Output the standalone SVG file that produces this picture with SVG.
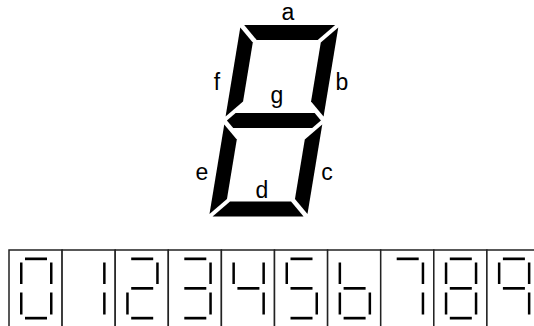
<svg xmlns="http://www.w3.org/2000/svg" width="534" height="326" viewBox="0 0 534 326">
<style>
.seg{fill:#000}
.lbl{font-family:"Liberation Sans",Arial,sans-serif;font-size:23px;fill:#000;text-anchor:middle}
.box{fill:#fff;stroke:#222;stroke-width:1.5}
.s{fill:#000}
</style>
<defs>
<rect id="sa" class="s" x="16" y="257.5" width="22" height="2.7"/>
<rect id="sb" class="s" x="41" y="262.5" width="2.5" height="21.5"/>
<rect id="sc" class="s" x="41" y="292.5" width="2.5" height="22"/>
<rect id="sd" class="s" x="16" y="316.8" width="22" height="2.7"/>
<rect id="se" class="s" x="11" y="292.5" width="2.5" height="22"/>
<rect id="sf" class="s" x="11" y="262.5" width="2.5" height="21.5"/>
<rect id="sg" class="s" x="16" y="287" width="22" height="2.7"/>
</defs>
<rect width="534" height="326" fill="#fff"/>
<g id="display" transform="matrix(1,0,-0.165,1,19.8,0)">
<polygon id="seg-a" class="seg" points="228.5,25 319.5,25 304.5,40 243.5,40"/>
<polygon id="seg-b" class="seg" points="323,27.5 323,116.5 308,101.5 308,42.5"/>
<polygon id="seg-c" class="seg" points="323,124.5 323,214 308,199 308,139.5"/>
<polygon id="seg-d" class="seg" points="228.5,216.5 243.5,201.5 304.5,201.5 319.5,216.5"/>
<polygon id="seg-e" class="seg" points="225,124.5 240,139.5 240,199 225,214"/>
<polygon id="seg-f" class="seg" points="225,27.5 240,42.5 240,101.5 225,116.5"/>
<polygon id="seg-g" class="seg" points="227,120.5 234.5,113 313.5,113 321,120.5 313.5,128 234.5,128"/>
</g>
<g id="labels">
<text class="lbl" x="288" y="20">a</text>
<text class="lbl" x="342" y="90">b</text>
<text class="lbl" x="327" y="180">c</text>
<text class="lbl" x="262" y="198">d</text>
<text class="lbl" x="202" y="180">e</text>
<text class="lbl" x="217" y="90">f</text>
<text class="lbl" x="277" y="103">g</text>
</g>
<g id="digit-0" transform="translate(9,0)"><rect class="box" x="0" y="250" width="53.1" height="90"/><use href="#sa"/><use href="#sb"/><use href="#sc"/><use href="#sd"/><use href="#se"/><use href="#sf"/></g>
<g id="digit-1" transform="translate(62.1,0)"><rect class="box" x="0" y="250" width="53.1" height="90"/><use href="#sb"/><use href="#sc"/></g>
<g id="digit-2" transform="translate(115.2,0)"><rect class="box" x="0" y="250" width="53.1" height="90"/><use href="#sa"/><use href="#sb"/><use href="#sg"/><use href="#se"/><use href="#sd"/></g>
<g id="digit-3" transform="translate(168.3,0)"><rect class="box" x="0" y="250" width="53.1" height="90"/><use href="#sa"/><use href="#sb"/><use href="#sg"/><use href="#sc"/><use href="#sd"/></g>
<g id="digit-4" transform="translate(221.4,0)"><rect class="box" x="0" y="250" width="53.1" height="90"/><use href="#sf"/><use href="#sb"/><use href="#sg"/><use href="#sc"/></g>
<g id="digit-5" transform="translate(274.5,0)"><rect class="box" x="0" y="250" width="53.1" height="90"/><use href="#sa"/><use href="#sf"/><use href="#sg"/><use href="#sc"/><use href="#sd"/></g>
<g id="digit-6" transform="translate(327.6,0)"><rect class="box" x="0" y="250" width="53.1" height="90"/><use href="#sf"/><use href="#sg"/><use href="#se"/><use href="#sc"/><use href="#sd"/></g>
<g id="digit-7" transform="translate(380.7,0)"><rect class="box" x="0" y="250" width="53.1" height="90"/><use href="#sa"/><use href="#sb"/><use href="#sc"/></g>
<g id="digit-8" transform="translate(433.8,0)"><rect class="box" x="0" y="250" width="53.1" height="90"/><use href="#sa"/><use href="#sb"/><use href="#sc"/><use href="#sd"/><use href="#se"/><use href="#sf"/><use href="#sg"/></g>
<g id="digit-9" transform="translate(486.9,0)"><rect class="box" x="0" y="250" width="53.1" height="90"/><use href="#sa"/><use href="#sf"/><use href="#sb"/><use href="#sg"/><use href="#sc"/></g>
</svg>
